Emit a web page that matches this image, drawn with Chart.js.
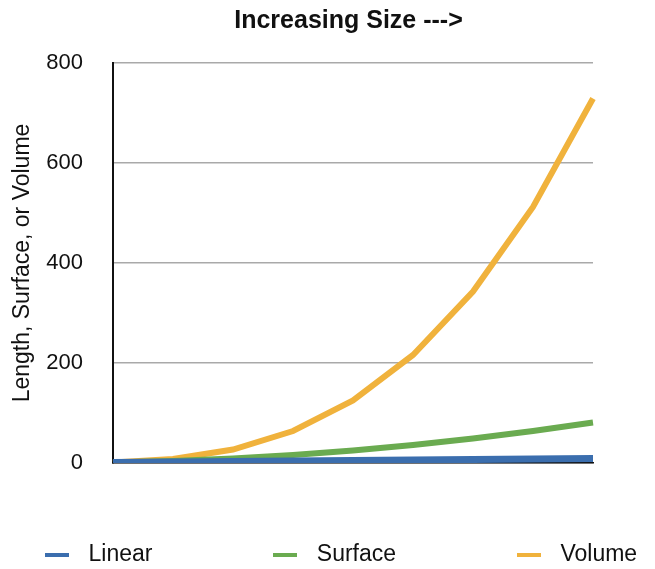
<!DOCTYPE html>
<html>
<head>
<meta charset="utf-8">
<script src="https://cdn.jsdelivr.net/npm/chart.js@4"></script>
<style>
  html, body { margin: 0; padding: 0; background: #fff; overflow: hidden; }
  #wrap { width: 655px; height: 576px; }
</style>
</head>
<body>
<div id="wrap"><canvas id="sizeChart"></canvas></div>
<script>
// Data
const sizes = ['1', '2', '3', '4', '5', '6', '7', '8', '9'];
const linearValues = [1, 2, 3, 4, 5, 6, 7, 8, 9];
const surfaceValues = [1, 4, 9, 16, 25, 36, 49, 64, 81];
const volumeValues = [1, 8, 27, 64, 125, 216, 343, 512, 729];
const yTicks = [0, 200, 400, 600, 800];

const fontFamily = '"Liberation Sans", Arial, Helvetica, sans-serif';

// title is centred over the plot, legend starts a bit further right
const nudgeBoxes = {
  id: 'nudgeBoxes',
  afterLayout(chart) {
    chart.titleBlock.left += 21;
    chart.titleBlock.right += 21;
    chart.legend.left += 20;
    chart.legend.right += 20;
  }
};

// short dash used as legend marker
function legendDash(color) {
  const c = document.createElement('canvas');
  c.width = 24;
  c.height = 4;
  const ctx = c.getContext('2d');
  ctx.fillStyle = color;
  ctx.fillRect(0, 0, 24, 4);
  return c;
}

function makeLine(label, values, color, width) {
  return {
    label: label,
    data: values,
    borderColor: color,
    backgroundColor: color,
    borderWidth: width,
    pointRadius: 0,
    tension: 0,
    fill: false
  };
}

let sizeChart = new Chart(document.getElementById('sizeChart').getContext('2d'), {
  type: 'line',
  data: {
    labels: sizes,
    datasets: [
      makeLine('Linear', linearValues, '#3b6eae', 7),
      makeLine('Surface', surfaceValues, '#6aab50', 6),
      makeLine('Volume', volumeValues, '#f0b23c', 6)
    ]
  },
  options: {
    responsive: true,
    maintainAspectRatio: false,
    animation: false,
    layout: { padding: 0 },
    plugins: {
      title: {
        display: true,
        text: 'Increasing Size --->',
        color: '#111',
        font: { family: fontFamily, size: 25, weight: 'bold' },
        padding: { top: 6, bottom: 27 }
      },
      legend: {
        position: 'bottom',
        align: 'start',
        labels: {
          color: '#111',
          font: { family: fontFamily, size: 23 },
          usePointStyle: true,
          pointStyleWidth: 40,
          padding: 17,
          generateLabels(chart) {
            const items = Chart.defaults.plugins.legend.labels.generateLabels(chart);
            items.forEach((item, i) => {
              item.pointStyle = legendDash(item.strokeStyle);
              // spacing between legend entries
              if (i < items.length - 1) item.text = item.text + ' '.repeat(15);
            });
            return items;
          }
        }
      },
      tooltip: { enabled: false }
    },
    scales: {
      x: {
        type: 'category',
        offset: false,
        ticks: { display: false },
        grid: { display: false, drawTicks: false },
        border: { display: true, color: '#111', width: 1.5 },
        afterFit(scale) { scale.height = 63; }
      },
      y: {
        min: 0,
        max: 800,
        afterBuildTicks(scale) {
          scale.ticks = yTicks.map(v => ({ value: v }));
        },
        ticks: {
          color: '#111',
          padding: 30,
          font: { family: fontFamily, size: 22 }
        },
        grid: { color: '#a9a9a9', lineWidth: 1.5, drawTicks: false },
        border: { display: true, color: '#111', width: 2 },
        title: {
          display: true,
          text: 'Length, Surface, or Volume',
          color: '#111',
          font: { family: fontFamily, size: 23 },
          padding: { top: 9, bottom: 0 }
        },
        afterFit(scale) { scale.width = 113; }
      },
      // empty strip on the right of the plot
      rightGap: {
        type: 'linear',
        position: 'right',
        display: true,
        ticks: { display: false },
        grid: { display: false, drawTicks: false },
        border: { display: false },
        afterFit(scale) { scale.width = 62; }
      }
    }
  },
  plugins: [nudgeBoxes]
});
</script>
</body>
</html>
